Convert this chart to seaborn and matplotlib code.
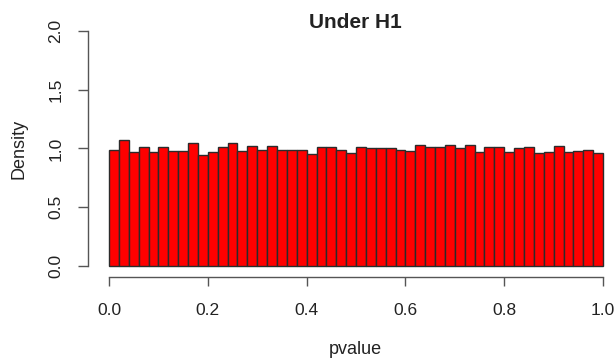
import numpy as np
import pandas as pd
import matplotlib
matplotlib.use("Agg")
import matplotlib.pyplot as plt
import seaborn as sns

# density of each 0.02-wide p-value bin
bin_edges = [round(i * 0.02, 2) for i in range(51)]
density = [0.99, 1.07, 0.97, 1.01, 0.97, 1.01, 0.98, 0.98, 1.05, 0.94,
           0.97, 1.01, 1.05, 0.98, 1.02, 0.99, 1.02, 0.99, 0.99, 0.99,
           0.95, 1.01, 1.01, 0.99, 0.96, 1.01, 1.00, 1.00, 1.00, 0.99,
           0.98, 1.03, 1.01, 1.01, 1.03, 1.00, 1.03, 0.97, 1.01, 1.01,
           0.97, 1.00, 1.01, 0.96, 0.97, 1.02, 0.97, 0.98, 0.99, 0.96]
x_ticks = [0.0, 0.2, 0.4, 0.6, 0.8, 1.0]
y_ticks = [0.0, 0.5, 1.0, 1.5, 2.0]

centers = [(bin_edges[i] + bin_edges[i + 1]) / 2 for i in range(len(density))]
df = pd.DataFrame({"pvalue": centers, "density": density})

sns.set_style("white")
plt.rcParams["font.family"] = ["Liberation Sans", "DejaVu Sans"]

fig = plt.figure(figsize=(6.15, 3.58), dpi=100)
ax = fig.add_axes([0.1431, 0.2263, 0.8696, 0.7131])

sns.histplot(data=df, x="pvalue", weights="density", bins=bin_edges,
             stat="count", color="#ff0000", alpha=1, edgecolor="#2b2b2b",
             linewidth=1.0, ax=ax)

ax.set_xlim(-0.0425, 1.04)
ax.set_ylim(-0.096, 2.08)
for s in ["top", "right"]:
    ax.spines[s].set_visible(False)
ax.spines["left"].set_bounds(0, 2)
ax.spines["bottom"].set_bounds(0, 1)
for s in ["left", "bottom"]:
    ax.spines[s].set_color("#555555")
    ax.spines[s].set_linewidth(1.0)

ax.set_xticks(x_ticks)
ax.set_xticklabels([f"{v:.1f}" for v in x_ticks])
ax.set_yticks(y_ticks)
ax.set_yticklabels([f"{v:.1f}" for v in y_ticks], rotation=90, va="center")
ax.tick_params(axis="both", direction="out", width=1.0,
               color="#555555", labelsize=12.5, labelcolor="#222222",
               left=True, bottom=True)
ax.tick_params(axis="x", length=6.5, pad=12)
ax.tick_params(axis="y", length=7.2, pad=10.5)

ax.set_xlabel("pvalue", fontsize=13, color="#222222", labelpad=17)
ax.set_ylabel("Density", fontsize=13, color="#222222", labelpad=15)
fig.text(355 / 615, 1 - 28 / 358, "Under H1", fontsize=15, fontweight="bold",
         color="#222222", ha="center", va="baseline")
ax.grid(False)

fig.savefig("out.png", dpi=100)
